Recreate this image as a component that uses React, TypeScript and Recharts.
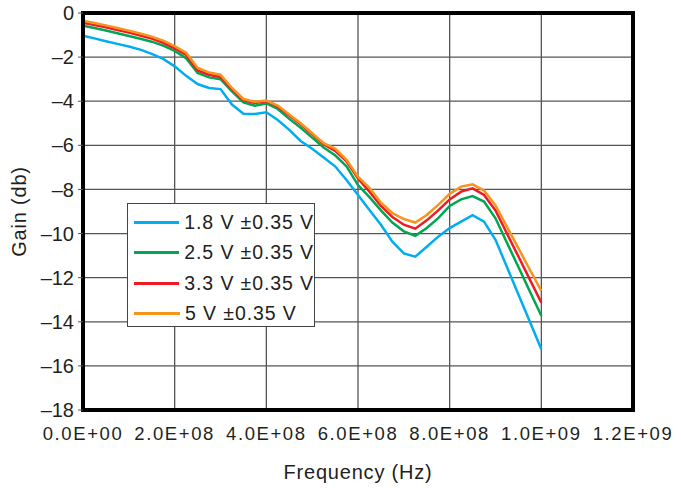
import { LineChart, Line, XAxis, YAxis, CartesianGrid, ReferenceArea } from 'recharts';

// frequency points in MHz
const freqMHz = [
  0, 25, 50, 75, 100, 125, 150, 175, 200, 225, 250, 275, 300, 325, 350, 375, 400, 425, 450, 475,
  500, 525, 550, 575, 600, 625, 650, 675, 700, 725, 750, 775, 800, 825, 850, 875, 900, 925, 950, 975, 1000,
];

const gain18 = [
  -1.03, -1.15, -1.28, -1.4, -1.52, -1.66, -1.85, -2.08, -2.42, -2.85, -3.22, -3.4, -3.45, -4.15, -4.57, -4.58, -4.5, -4.85, -5.3, -5.8,
  -6.15, -6.55, -6.95, -7.57, -8.25, -8.93, -9.6, -10.37, -10.9, -11.05, -10.6, -10.14, -9.75, -9.46, -9.17, -9.46, -10.28, -11.52, -12.76, -14.0, -15.25,
];

const gain25 = [
  -0.58, -0.68, -0.79, -0.92, -1.04, -1.17, -1.3, -1.48, -1.72, -2.05, -2.72, -2.92, -3.0, -3.55, -4.05, -4.2, -4.1, -4.35, -4.8, -5.2,
  -5.65, -6.1, -6.45, -6.95, -7.8, -8.35, -8.95, -9.5, -9.9, -10.1, -9.75, -9.3, -8.75, -8.45, -8.3, -8.55, -9.31, -10.42, -11.52, -12.63, -13.73,
];

const gain33 = [
  -0.44, -0.54, -0.65, -0.77, -0.89, -1.02, -1.16, -1.35, -1.6, -1.9, -2.6, -2.8, -2.9, -3.45, -3.95, -4.08, -4.0, -4.25, -4.65, -5.05,
  -5.5, -5.95, -6.25, -6.72, -7.5, -8.1, -8.75, -9.25, -9.6, -9.78, -9.4, -8.95, -8.45, -8.1, -7.95, -8.25, -8.95, -10.0, -11.04, -12.09, -13.13,
];

const gain50 = [
  -0.35, -0.45, -0.56, -0.68, -0.8, -0.93, -1.07, -1.25, -1.5, -1.8, -2.48, -2.7, -2.8, -3.4, -3.9, -4.02, -3.97, -4.2, -4.6, -5.0,
  -5.45, -5.9, -6.15, -6.66, -7.42, -7.93, -8.6, -9.07, -9.34, -9.5, -9.16, -8.7, -8.2, -7.87, -7.77, -8.05, -8.72, -9.7, -10.66, -11.64, -12.6,
];

const xTicks = [0, 2e8, 4e8, 6e8, 8e8, 1e9, 1.2e9];
const yTicks = [0, -2, -4, -6, -8, -10, -12, -14, -16, -18];

const seriesList = [
  { key: 'v18', name: '1.8 V ±0.35 V', color: '#00aeef', values: gain18 },
  { key: 'v25', name: '2.5 V ±0.35 V', color: '#00a651', values: gain25 },
  { key: 'v33', name: '3.3 V ±0.35 V', color: '#ed1c24', values: gain33 },
  { key: 'v50', name: '5 V ±0.35 V', color: '#f7941d', values: gain50 },
];

const data = freqMHz.map((m, i) => {
  const row: Record<string, number> = { f: m * 1e6 };
  seriesList.forEach((s) => {
    row[s.key] = s.values[i];
  });
  return row;
});

const font = '"Liberation Sans", Arial, Helvetica, sans-serif';
const textColor = '#231f20';

function fmtSci(v: number) {
  if (v === 0) return '0.0E+00';
  const exp = Math.floor(Math.log10(v));
  const mant = v / Math.pow(10, exp);
  return `${mant.toFixed(1)}E+${String(exp).padStart(2, '0')}`;
}

function fmtGain(v: number) {
  return v < 0 ? `\u2013${Math.abs(v)}` : `${v}`;
}

function LegendBox() {
  return (
    <div
      style={{
        position: 'absolute',
        left: 127,
        top: 203,
        width: 188,
        height: 124,
        background: '#fff',
        border: '1px solid #444',
        boxSizing: 'border-box',
        padding: '3px 0 0 6px',
        fontFamily: font,
        color: textColor,
      }}
    >
      {seriesList.map((s) => (
        <div key={s.key} style={{ display: 'flex', alignItems: 'center', height: 30.5 }}>
          <div style={{ width: 46, height: 3, background: s.color, marginRight: 5 }} />
          <span style={{ fontSize: 19.5, letterSpacing: 0.9, whiteSpace: 'nowrap' }}>{s.name}</span>
        </div>
      ))}
    </div>
  );
}

export default function App() {
  return (
    <div style={{ position: 'absolute', left: 0, top: 0, width: 681, height: 488, background: '#fff' }}>
      <LineChart width={681} height={488} data={data} margin={{ top: 13, right: 48, left: 0, bottom: 0 }}>
        <CartesianGrid stroke="#555" strokeWidth={1.3} />
        <XAxis
          dataKey="f"
          type="number"
          domain={[0, 1.2e9]}
          ticks={xTicks}
          tickFormatter={fmtSci}
          height={78}
          tickLine={false}
          axisLine={{ stroke: '#000', strokeWidth: 4 }}
          tickMargin={11}
          tick={{ fontSize: 18.5, fill: textColor, fontFamily: font, letterSpacing: 1.6 }}
          interval={0}
          label={{ value: 'Frequency (Hz)', position: 'center', dy: 23, fontSize: 20, letterSpacing: 0.8, fill: textColor, fontFamily: font }}
        />
        <YAxis
          type="number"
          domain={[-18, 0]}
          ticks={yTicks}
          tickFormatter={fmtGain}
          width={83}
          interval={0}
          tickSize={5}
          tickLine={{ stroke: '#555' }}
          axisLine={{ stroke: '#000', strokeWidth: 4 }}
          tickMargin={4}
          tick={{ fontSize: 20, fill: textColor, fontFamily: font }}
          label={{ value: 'Gain (db)', angle: -90, position: 'center', dx: -23, fontSize: 20, letterSpacing: 0.8, fill: textColor, fontFamily: font }}
        />
        <ReferenceArea x1={0} x2={1.2e9} y1={-18} y2={0} fill="none" stroke="#000" strokeWidth={4} />
        {seriesList.map((s) => (
          <Line
            key={s.key}
            type="linear"
            dataKey={s.key}
            name={s.name}
            stroke={s.color}
            strokeWidth={2.5}
            dot={false}
            isAnimationActive={false}
          />
        ))}
      </LineChart>
      <LegendBox />
    </div>
  );
}
